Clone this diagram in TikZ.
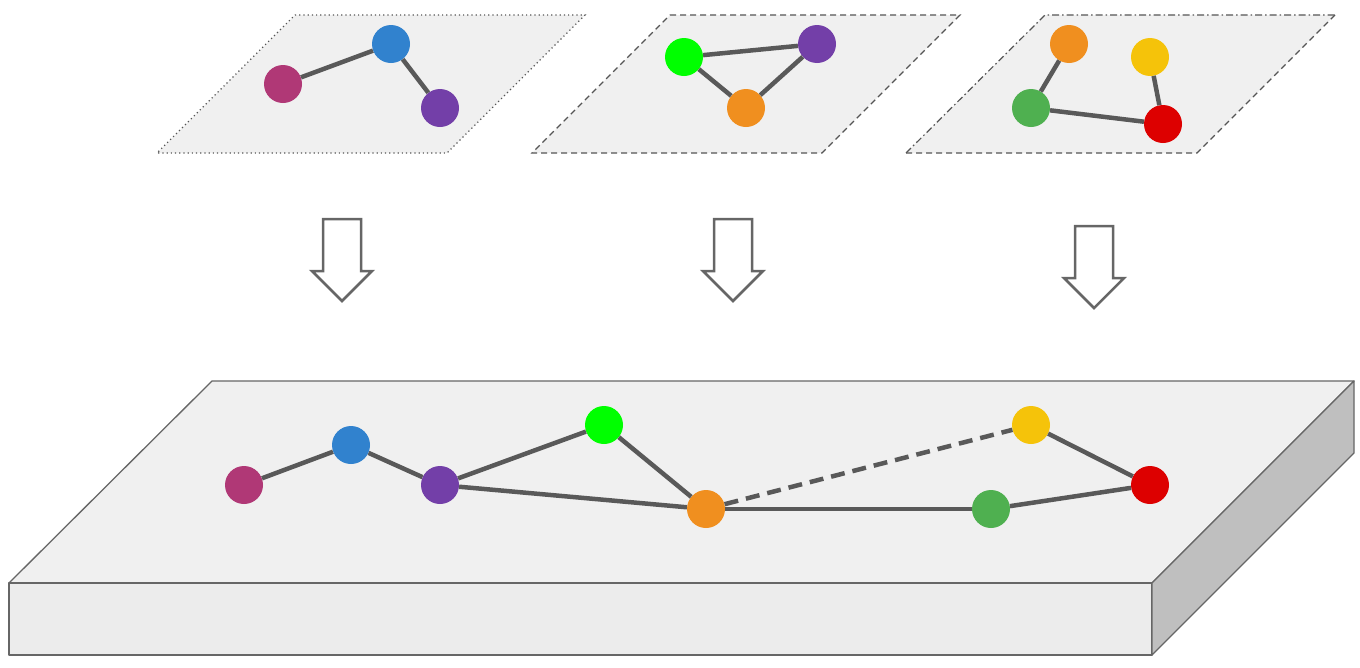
\documentclass[tikz,border=0pt]{standalone}
\usetikzlibrary{calc}
\definecolor{planefill}{HTML}{F0F0F0}
\definecolor{frontfill}{HTML}{ECECEC}
\definecolor{sidefill}{HTML}{BFBFBF}
\definecolor{strokegray}{HTML}{666666}
\definecolor{planestroke}{HTML}{555555}
\definecolor{edgegray}{HTML}{595959}
\definecolor{cmag}{HTML}{B03876}
\definecolor{cblue}{HTML}{3182CE}
\definecolor{cpurple}{HTML}{733FA8}
\definecolor{cgreen}{HTML}{00FF00}
\definecolor{corange}{HTML}{F08F1F}
\definecolor{cyellow}{HTML}{F5C30A}
\definecolor{cgreentwo}{HTML}{4FB050}
\definecolor{cred}{HTML}{DD0000}
\tikzset{
  vtx/.style={circle, minimum size=38pt, inner sep=0pt, fill=#1, draw=none},
  lnk/.style={draw=edgegray, line width=4.5pt},
  slab/.style={draw=strokegray, line width=1.3pt, line join=round},
  blockarrow/.pic={
    \draw[draw=strokegray, fill=white, line width=2.5pt, line join=miter]
      (-19,0) -- (19,0) -- (19,52) -- (30,52) -- (0,82) -- (-30,52) -- (-19,52) -- cycle;
  }
}
\begin{document}
\begin{tikzpicture}[x=1pt, y=-1pt]
\useasboundingbox (0,0) rectangle (1360,667);

% ---------- top planes ----------
\fill[planefill] (295,15) -- (585,15) -- (447,153) -- (157,153) -- cycle;
\draw[planestroke, line width=1.2pt, dash pattern=on 1.2pt off 3pt] (295,15) -- (585,15) -- (447,153) -- (157,153) -- cycle;

\fill[planefill] (670,15) -- (960,15) -- (822,153) -- (532,153) -- cycle;
\draw[planestroke, line width=1.2pt, dash pattern=on 6pt off 4pt] (670,15) -- (960,15) -- (822,153) -- (532,153) -- cycle;

\fill[planefill] (1045,15) -- (1335,15) -- (1197,153) -- (906,153) -- cycle;
\draw[planestroke, line width=1.2pt, dash pattern=on 7pt off 3pt on 1.5pt off 3pt] (906,153) -- (1045,15) -- (1335,15);
\draw[planestroke, line width=1.2pt, dash pattern=on 6pt off 4pt] (1335,15) -- (1197,153) -- (906,153);

% plane 1 graph
\node[vtx=cmag] (a1) at (283,84) {};
\node[vtx=cblue] (b1) at (391,44) {};
\node[vtx=cpurple] (c1) at (440,108) {};
\draw[lnk] (a1) -- (b1);
\draw[lnk] (b1) -- (c1);

% plane 2 graph
\node[vtx=cgreen] (a2) at (684,57) {};
\node[vtx=cpurple] (b2) at (817,44) {};
\node[vtx=corange] (c2) at (746,108) {};
\draw[lnk] (a2) -- (b2);
\draw[lnk] (a2) -- (c2);
\draw[lnk] (c2) -- (b2);

% plane 3 graph
\node[vtx=corange] (a3) at (1069,44) {};
\node[vtx=cyellow] (b3) at (1150,57) {};
\node[vtx=cgreentwo] (c3) at (1031,108) {};
\node[vtx=cred] (d3) at (1163,124) {};
\draw[lnk] (a3) -- (c3);
\draw[lnk] (c3) -- (d3);
\draw[lnk] (b3) -- (d3);

% ---------- arrows ----------
\pic at (342,219) {blockarrow};
\pic at (733,219) {blockarrow};
\pic at (1094,226) {blockarrow};

% ---------- slab ----------
\draw[slab, fill=planefill] (212,381) -- (1354,381) -- (1152,583) -- (9,583) -- cycle;
\draw[slab, fill=frontfill] (9,583) -- (1152,583) -- (1152,655) -- (9,655) -- cycle;
\draw[slab, fill=sidefill] (1152,583) -- (1354,381) -- (1354,453) -- (1152,655) -- cycle;

% bottom graph
\node[vtx=cmag] (m) at (244,485) {};
\node[vtx=cblue] (bl) at (351,445) {};
\node[vtx=cpurple] (p) at (440,485) {};
\node[vtx=cgreen] (g) at (604,425) {};
\node[vtx=corange] (o) at (706,509) {};
\node[vtx=cyellow] (y) at (1031,425) {};
\node[vtx=cgreentwo] (g2) at (991,509) {};
\node[vtx=cred] (r) at (1150,485) {};
\draw[lnk] (m) -- (bl);
\draw[lnk] (bl) -- (p);
\draw[lnk] (p) -- (g);
\draw[lnk] (g) -- (o);
\draw[lnk] (p) -- (o);
\draw[lnk, dash pattern=on 14pt off 8pt] (o) -- (y);
\draw[lnk] (o) -- (g2);
\draw[lnk] (g2) -- (r);
\draw[lnk] (y) -- (r);
\end{tikzpicture}
\end{document}
